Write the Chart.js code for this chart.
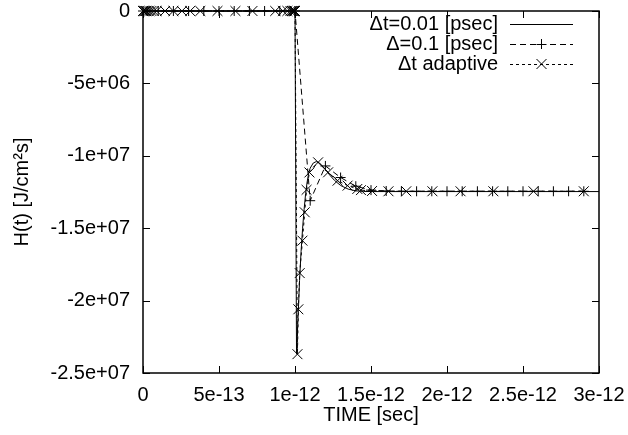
<!DOCTYPE html>
<html>
<head>
<meta charset="utf-8">
<script src="https://cdn.jsdelivr.net/npm/chart.js@4"></script>
<style>
  html, body { margin: 0; padding: 0; background: #fff; }
  #wrap { width: 628px; height: 435px; }
</style>
</head>
<body>
<div id="wrap"><canvas id="grafico" width="628" height="435"></canvas></div>
<script>
// time axis in psec, H(t) in J/cm^2 s
var xTickLabels = ['0', '5e-13', '1e-12', '1.5e-12', '2e-12', '2.5e-12', '3e-12'];
var yTickLabels = ['-2.5e+07', '-2e+07', '-1.5e+07', '-1e+07', '-5e+06', '0'];

// dt = 0.01 psec (solid)
var fineTime = [0, 1.0, 1.01, 1.02, 1.03, 1.04, 1.05, 1.06, 1.07, 1.08, 1.09, 1.10, 1.12, 1.14,
    1.16, 1.18, 1.20, 1.23, 1.26, 1.30, 1.35, 1.40, 1.45, 1.5, 3.0];
var fineH = [0, 0, -2.37e7, -2.12e7, -1.86e7, -1.66e7, -1.5e7, -1.37e7, -1.26e7, -1.18e7, -1.12e7, -1.085e7,
    -1.05e7, -1.04e7, -1.048e7, -1.07e7, -1.095e7, -1.135e7, -1.17e7, -1.205e7, -1.23e7, -1.242e7,
    -1.246e7, -1.247e7, -1.247e7];

// dt = 0.1 psec (dashed, +)
var coarseTime = [0, 0.1, 0.2, 0.3, 0.4, 0.5, 0.6, 0.7, 0.8, 0.9, 1.0, 1.1, 1.2, 1.3, 1.4, 1.5,
    1.6, 1.7, 1.8, 1.9, 2.0, 2.1, 2.2, 2.3, 2.4, 2.5, 2.6, 2.7, 2.8, 2.9];
var coarseH = [0, 0, 0, 0, 0, 0, 0, 0, 0, 0, 0, -1.31e7, -1.07e7, -1.15e7, -1.21e7, -1.237e7,
    -1.243e7, -1.245e7, -1.245e7, -1.245e7, -1.245e7, -1.245e7, -1.245e7, -1.245e7, -1.245e7,
    -1.245e7, -1.245e7, -1.245e7, -1.245e7, -1.245e7];

// adaptive dt (dotted, x)
var adaptTime = [0, 0.005, 0.012, 0.02, 0.03, 0.042, 0.055, 0.07, 0.09, 0.145, 0.2, 0.256, 0.31,
    0.377, 0.49, 0.608, 0.72, 0.87, 0.92, 0.95, 0.97, 0.98, 0.988, 0.994, 0.998, 1.0,
    1.016, 1.022, 1.031, 1.049, 1.064, 1.076, 1.095, 1.152, 1.218, 1.28, 1.346, 1.41, 1.434,
    1.507, 1.615, 1.732, 1.904, 2.089, 2.305, 2.569, 2.9];
var adaptH = [0, 0, 0, 0, 0, 0, 0, 0, 0, 0, 0, 0, 0, 0, 0, 0, 0, 0, 0, 0, 0, 0, 0, 0, 0, 0,
    -2.37e7, -2.06e7, -1.81e7, -1.586e7, -1.39e7, -1.235e7, -1.115e7, -1.045e7, -1.114e7,
    -1.172e7, -1.206e7, -1.229e7, -1.237e7, -1.243e7, -1.245e7, -1.245e7, -1.245e7, -1.245e7,
    -1.245e7, -1.245e7, -1.245e7];

var nomes = ['\u0394t=0.01 [psec]', '\u0394=0.1 [psec]', '\u0394t adaptive'];

function pares(xs, ys) {
    return xs.map(function(x, i) { return { x: x, y: ys[i] }; });
}

var fonte = '"Liberation Sans", Arial, Helvetica, sans-serif';

// moldura com ticks para dentro (estilo gnuplot) + legenda
var molduraPlugin = {
    id: 'moldura',
    beforeDatasetsDraw: function(chart) {
        var ctx = chart.ctx, a = chart.chartArea;
        var sx = chart.scales.x, sy = chart.scales.y;
        var tl = 7;
        ctx.save();
        ctx.strokeStyle = '#000';
        ctx.lineWidth = 1.5;
        ctx.strokeRect(a.left, a.top, a.right - a.left, a.bottom - a.top);
        ctx.lineWidth = 1;
        ctx.beginPath();
        sx.ticks.forEach(function(t) {
            var px = Math.round(sx.getPixelForValue(t.value)) + 0.5;
            ctx.moveTo(px, a.bottom); ctx.lineTo(px, a.bottom - tl);
            ctx.moveTo(px, a.top); ctx.lineTo(px, a.top + tl);
        });
        sy.ticks.forEach(function(t) {
            var py = Math.round(sy.getPixelForValue(t.value)) + 0.5;
            ctx.moveTo(a.left, py); ctx.lineTo(a.left + tl, py);
            ctx.moveTo(a.right, py); ctx.lineTo(a.right - tl, py);
        });
        ctx.stroke();
        ctx.restore();
    },
    afterDraw: function(chart) {
        var ctx = chart.ctx;
        var textoX = 498, x0 = 510, x1 = 573, y0 = 24, passo = 20;
        ctx.save();
        ctx.font = '20px ' + fonte;
        ctx.fillStyle = '#000';
        ctx.textAlign = 'right';
        ctx.textBaseline = 'middle';
        chart.data.datasets.forEach(function(ds, i) {
            var y = y0 + i * passo;
            ctx.fillText(nomes[i], textoX, y);
            ctx.strokeStyle = '#000';
            ctx.lineWidth = 1;
            ctx.setLineDash(ds.borderDash || []);
            ctx.beginPath();
            ctx.moveTo(x0, y + 0.5); ctx.lineTo(x1, y + 0.5);
            ctx.stroke();
            ctx.setLineDash([]);
            var mx = (x0 + x1) / 2;
            ctx.beginPath();
            if (ds.pointStyle === 'cross') {
                ctx.moveTo(mx - 5, y + 0.5); ctx.lineTo(mx + 5, y + 0.5);
                ctx.moveTo(mx, y - 5); ctx.lineTo(mx, y + 5);
            } else if (ds.pointStyle === 'crossRot') {
                ctx.moveTo(mx - 5, y - 5); ctx.lineTo(mx + 5, y + 5);
                ctx.moveTo(mx - 5, y + 5); ctx.lineTo(mx + 5, y - 5);
            }
            ctx.stroke();
        });
        ctx.restore();
    }
};

document.addEventListener('DOMContentLoaded', function() {
    var ctx = document.getElementById('grafico').getContext('2d');
    var grafico = new Chart(ctx, {
        type: 'line',
        data: {
            datasets: [{
                label: nomes[0],
                data: pares(fineTime, fineH),
                borderColor: '#000',
                borderWidth: 1,
                pointRadius: 0,
                fill: false,
                clip: false
            }, {
                label: nomes[1],
                data: pares(coarseTime, coarseH),
                borderColor: '#000',
                borderWidth: 1,
                borderDash: [6, 4],
                pointStyle: 'cross',
                pointRadius: 5,
                pointBorderWidth: 1,
                pointBorderColor: '#000',
                fill: false,
                clip: false
            }, {
                label: nomes[2],
                data: pares(adaptTime, adaptH),
                borderColor: '#000',
                borderWidth: 1,
                borderDash: [3, 3],
                pointStyle: 'crossRot',
                pointRadius: 7,
                pointBorderWidth: 1,
                pointBorderColor: '#000',
                fill: false,
                clip: false
            }]
        },
        options: {
            responsive: false,
            maintainAspectRatio: false,
            animation: false,
            events: [],
            layout: { padding: { top: 11, right: 29, left: 0, bottom: 0 } },
            plugins: {
                legend: { display: false },
                tooltip: { enabled: false }
            },
            scales: {
                x: {
                    type: 'linear',
                    min: 0,
                    max: 3,
                    grid: { display: false, drawTicks: false },
                    border: { display: false },
                    afterFit: function(s) { s.height = 62; s.paddingLeft = 0; s.paddingRight = 0; },
                    ticks: {
                        stepSize: 0.5,
                        padding: 10,
                        maxRotation: 0,
                        color: '#000',
                        font: { family: fonte, size: 20 },
                        callback: function(v, i) { return xTickLabels[i]; }
                    },
                    title: {
                        display: true,
                        text: 'TIME [sec]',
                        color: '#000',
                        font: { family: fonte, size: 20 },
                        padding: { top: 0, bottom: 8 }
                    }
                },
                y: {
                    type: 'linear',
                    min: -2.5e7,
                    max: 0,
                    grid: { display: false, drawTicks: false },
                    border: { display: false },
                    afterFit: function(s) { s.width = 143; s.paddingTop = 0; s.paddingBottom = 0; },
                    ticks: {
                        stepSize: 5e6,
                        padding: 13,
                        color: '#000',
                        font: { family: fonte, size: 20 },
                        callback: function(v, i) { return yTickLabels[i]; }
                    },
                    title: {
                        display: true,
                        text: 'H(t) [J/cm\u00B2s]',
                        color: '#000',
                        font: { family: fonte, size: 20 },
                        padding: { top: 10, bottom: 0 }
                    }
                }
            }
        },
        plugins: [molduraPlugin]
    });
});
</script>
</body>
</html>
